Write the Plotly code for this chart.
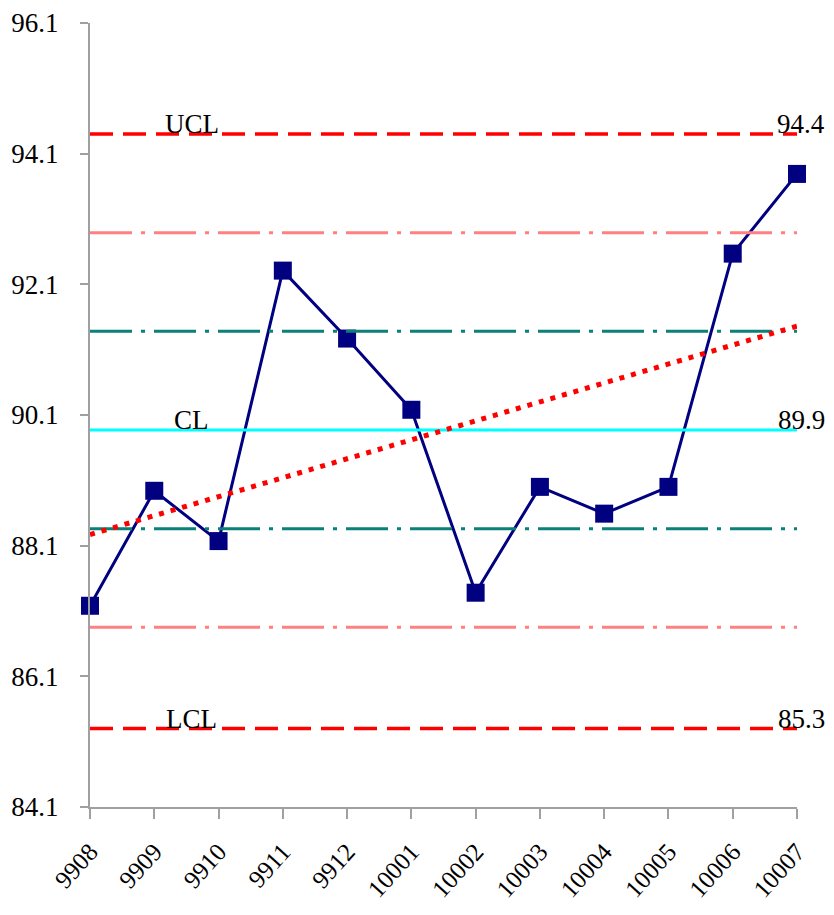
import numpy as np
import plotly.graph_objects as go

periods = ["9908", "9909", "9910", "9911", "9912", "10001", "10002",
           "10003", "10004", "10005", "10006", "10007"]
values = [87.18, 88.94, 88.17, 92.31, 91.27, 90.18, 87.38, 89.00, 88.59, 89.00, 92.57, 93.79]

ucl = 94.4
cl = 89.87
lcl = 85.3
sigma = (ucl - cl) / 3.0
plus1 = cl + sigma
minus1 = cl - sigma
plus2 = cl + 2 * sigma
minus2 = cl - 2 * sigma

y_ticks = [84.1, 86.1, 88.1, 90.1, 92.1, 94.1, 96.1]
y_tick_text = ["84.1", "86.1", "88.1", "90.1", "92.1", "94.1", "96.1"]

x = list(range(len(periods)))
xe = [x[0], x[-1]]

font_family = "Liberation Serif, Times New Roman, serif"

fig = go.Figure()

# data series
fig.add_trace(go.Scatter(
    x=x, y=values, mode="lines+markers",
    line=dict(color="#000080", width=3),
    marker=dict(symbol="square", size=18, color="#000080"),
    cliponaxis=False, showlegend=False))

def hline(v, color, dash, width=3):
    fig.add_trace(go.Scatter(x=xe, y=[v, v], mode="lines",
                             line=dict(color=color, width=width, dash=dash),
                             hoverinfo="skip", showlegend=False))

hline(plus2, "#FF8080", "42px,9px,4px,9px")
hline(minus2, "#FF8080", "42px,9px,4px,9px")
hline(plus1, "#0A8078", "42px,9px,4px,9px")
hline(minus1, "#0A8078", "42px,9px,4px,9px")
hline(cl, "#00FFFF", "solid")
hline(ucl, "#FF0000", "23px,10px", 3.5)
hline(lcl, "#FF0000", "23px,10px", 3.5)

# linear trend
coef = np.polyfit(x, values, 1)
trend = np.polyval(coef, xe)
fig.add_trace(go.Scatter(x=xe, y=list(trend), mode="lines",
                         line=dict(color="#FF0000", width=5, dash="5px,7px"),
                         hoverinfo="skip", showlegend=False))

ann_font = dict(family=font_family, size=27, color="#000000")
for label, v in [("UCL", ucl), ("CL", cl), ("LCL", lcl)]:
    fig.add_annotation(x=0.144, xref="paper", y=v, yref="y", text=label,
                       showarrow=False, xanchor="center", yanchor="bottom",
                       yshift=-7, font=ann_font)
for v in [ucl, cl, lcl]:
    fig.add_annotation(x=1.043, xref="paper", y=v, yref="y", text=f"{v:.1f}",
                       showarrow=False, xanchor="right", yanchor="bottom",
                       yshift=-7, font=ann_font)

fig.update_layout(
    width=834, height=915,
    margin=dict(l=90, r=37, t=23, b=108, autoexpand=False),
    paper_bgcolor="white", plot_bgcolor="white",
    font=dict(family=font_family, color="#000000"),
    xaxis=dict(range=[0, 11], tickvals=x, ticktext=periods, tickangle=-48,
               automargin=False,
               showgrid=False, zeroline=False, showline=True,
               linecolor="#A0A0A0", linewidth=2, ticks="outside",
               ticklen=10, tickcolor="#A0A0A0", tickwidth=2,
               ticklabelstandoff=8,
               tickfont=dict(family=font_family, size=25)),
    yaxis=dict(range=[84.1, 96.1], tickvals=y_ticks, ticktext=y_tick_text,
               automargin=False,
               showgrid=False, zeroline=False, showline=True,
               linecolor="#A0A0A0", linewidth=2, ticks="outside",
               ticklen=8, tickcolor="#A0A0A0", tickwidth=2,
               ticklabelstandoff=16,
               tickfont=dict(family=font_family, size=27)),
)

fig.write_html("out.html", config={"displayModeBar": False},
               post_script="document.body.style.margin='0';document.body.style.overflow='hidden';")
